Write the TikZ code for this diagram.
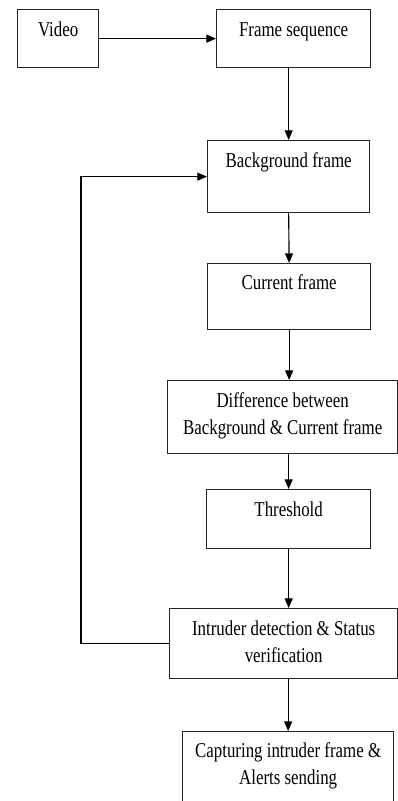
\documentclass[tikz,border=0pt]{standalone}
\usepackage{fontspec}
\setmainfont{Liberation Serif}[FakeStretch=0.8]
\usetikzlibrary{arrows.meta,positioning}

\begin{document}
\begin{tikzpicture}[
    x=0.025cm, y=-0.025cm,
    stepbox/.style={
        rectangle,
        draw=black!85,
        line width=0.9pt,
        inner sep=0pt,
        anchor=north west,
        align=center,
        font=\fontsize{15}{19}\selectfont},
    myarrow/.style={-{Triangle[length=2.4mm,width=2mm]}, line width=0.8pt},
    loopline/.style={-{Triangle[length=2.4mm,width=2mm]}, line width=0.8pt}
]
\clip (0,0) rectangle (398,801);

% boxes, top left corners
\node[stepbox, minimum width=2.025cm, text height=0.675cm, text depth=0.775cm] (video) at (17,9) {Video};
\node[stepbox, minimum width=3.85cm, text height=0.675cm, text depth=0.775cm] (frame) at (216,9) {Frame sequence};
\node[stepbox, minimum width=4.05cm, text height=0.675cm, text depth=1.125cm] (background) at (207,140) {Background frame};
\node[stepbox, minimum width=4.075cm, text height=0.65cm, text depth=1.0cm] (current) at (207,263) {Current frame};
\node[stepbox, minimum width=5.75cm, text height=1.35cm, text depth=0.475cm] (diff) at (167,380) {Difference between\\Background \& Current frame};
\node[stepbox, minimum width=4.1cm, text height=0.675cm, text depth=0.8cm] (threshold) at (206,489) {Threshold};
\node[stepbox, minimum width=5.7cm, text height=1.35cm, text depth=0.4cm] (intruder) at (169,608) {Intruder detection \& Status\\verification};
\node[stepbox, minimum width=5.275cm, text height=1.325cm, text depth=0.9cm] (capture) at (182,731) {Capturing intruder frame \&\\Alerts sending};

\coordinate (back) at (81,400);

% connectors
\draw[myarrow] (video.east) -- (frame.west);
\draw[myarrow] (frame.south -| background.north) -- (background.north);
\draw[myarrow] (background.south) -- (current.north);
\draw[myarrow] (current.south) -- (current.south |- diff.north);
\draw[myarrow] (diff.south -| threshold.north) -- (threshold.north);
\draw[myarrow] (threshold.south) -- (threshold.south |- intruder.north);
\draw[myarrow] (intruder.south -| capture.north) -- (capture.north);
\draw[loopline] (intruder.west) -- (intruder.west -| back) -- (back |- background.west) -- (background.west);

\end{tikzpicture}
\end{document}
